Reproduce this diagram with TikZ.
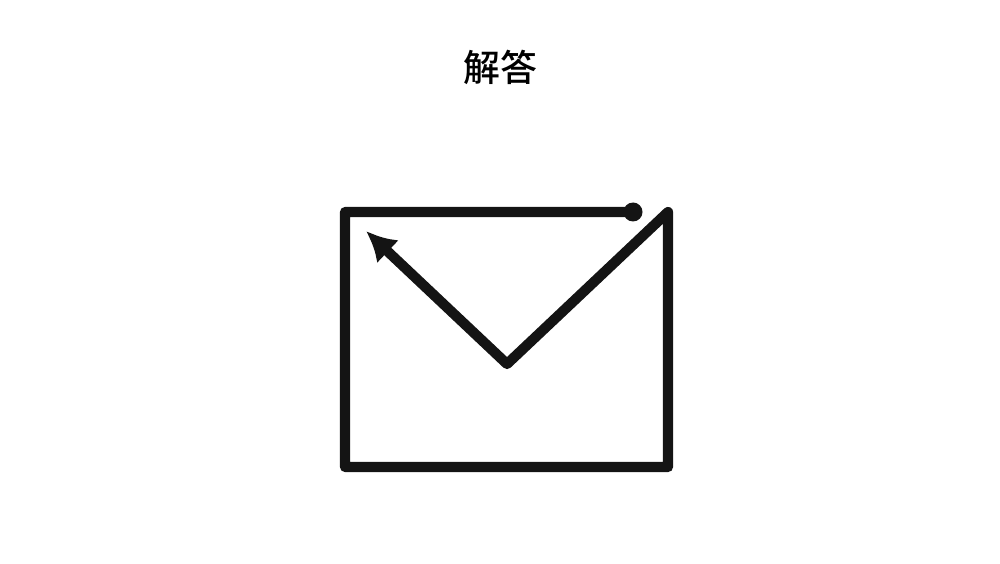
\documentclass[tikz,border=0pt]{standalone}
\usepackage{fontspec}
\newfontfamily\cjk{Noto Sans CJK SC Medium}
\usetikzlibrary{arrows.meta}
\begin{document}
\begin{tikzpicture}
\useasboundingbox (0,0) rectangle (10,5.63);
% Title
\node[font=\cjk\fontsize{10.5}{12}\selectfont] (title) at (5,4.96) {解答};

% Corner points of the one-stroke figure
\coordinate (start) at (6.33,3.51);
\coordinate (tl) at (3.45,3.51);
\coordinate (bl) at (3.45,0.96);
\coordinate (br) at (6.68,0.96);
\coordinate (tr) at (6.68,3.51);
\coordinate (vtip) at (5.07,1.99);
\coordinate (end) at (3.66,3.32);

% Start dot
\fill[black!92] (start) circle (0.095);

% Stroke path
\draw[black!92,line width=2.9pt,line join=round,line cap=round,-{Latex[length=8.5pt,width=9pt]}]
  (start) -- (tl) -- (bl) -- (br) -- (tr) -- (vtip) -- (end);
\end{tikzpicture}
\end{document}
